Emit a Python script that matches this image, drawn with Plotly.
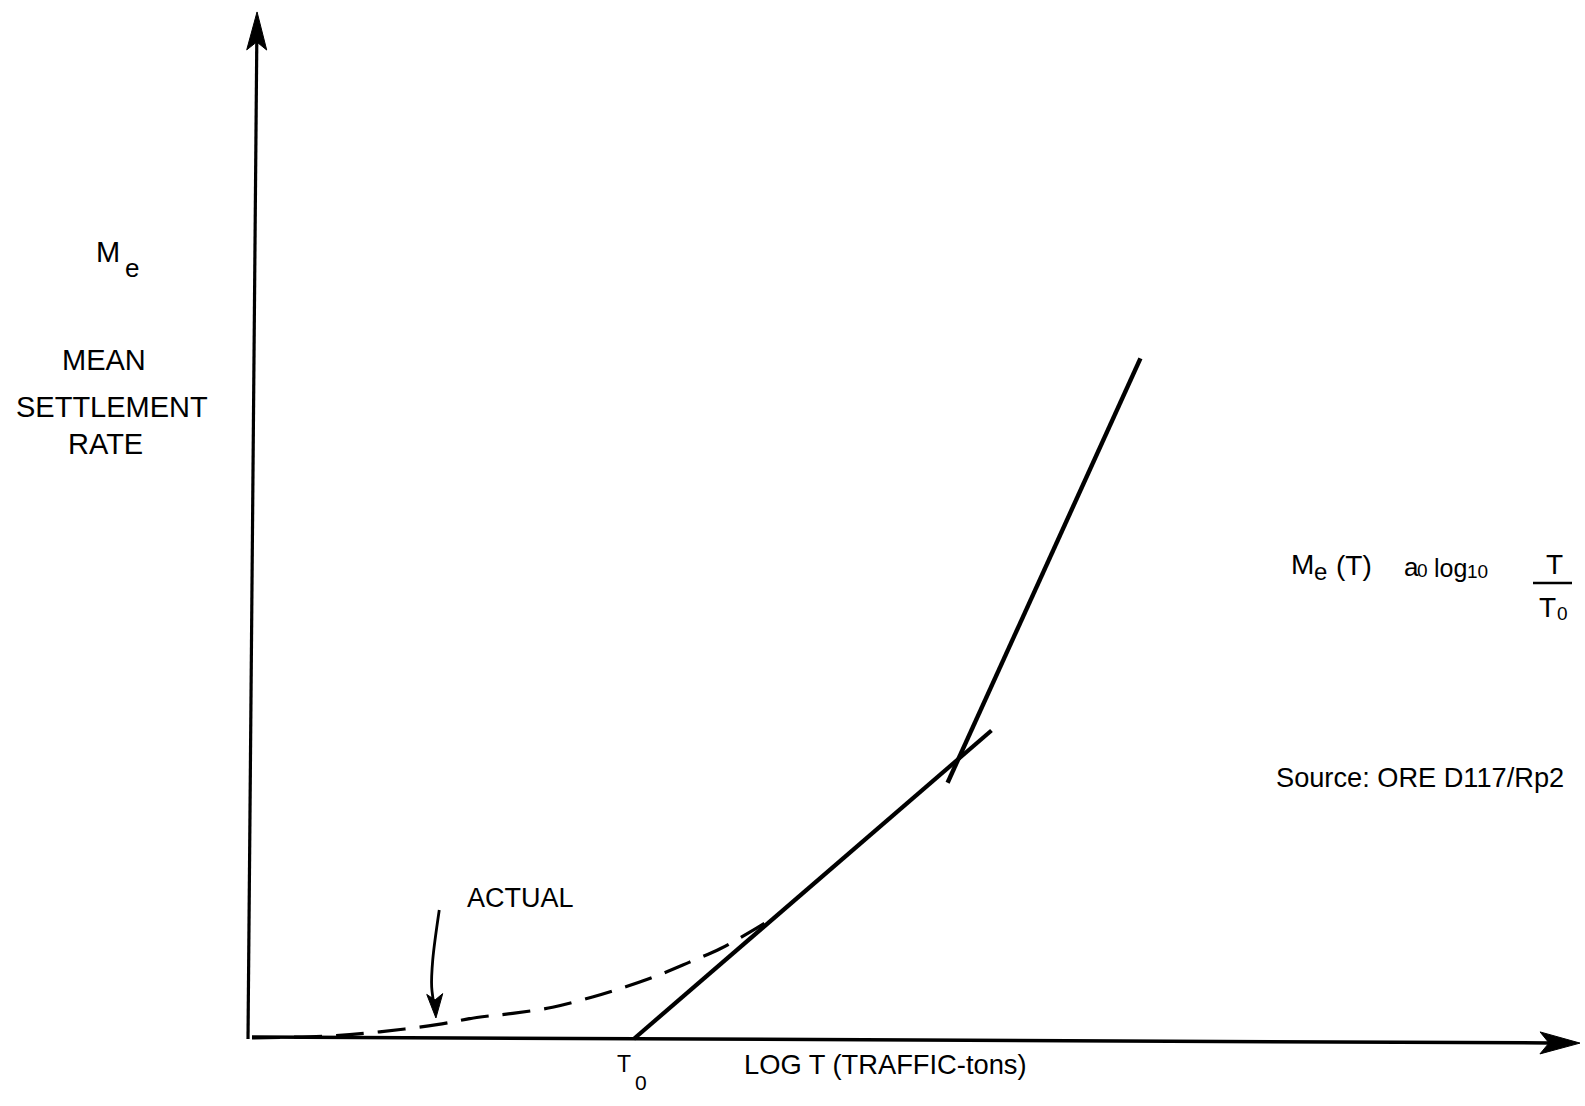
import math
import plotly.graph_objects as go

# ---------------------------------------------------------------------------
# Canvas and axis ranges (log T on x, mean settlement rate on y, arbitrary units)
# ---------------------------------------------------------------------------
FIG_W, FIG_H = 1585, 1106
X_RANGE = [-1.8947, 10.0226]
Y_RANGE = [-0.6537, 10.1366]

# ---------------------------------------------------------------------------
# Values
# ---------------------------------------------------------------------------
T0 = 2.87                      # intercept of the log-linear fit with the T axis

# drawn axes (the hand-drawn axes lean very slightly)
x_axis_x = [0.0, 9.985]
x_axis_y = [0.02, -0.04]
y_axis_x = [-0.03, 0.038]
y_axis_y = [0.0, 10.02]

# first straight fit: Me(T) = a0 log10(T / T0)
fit_low_x = [T0, 5.56]
fit_low_y = [0.0, 3.01]

# second, steeper straight fit beyond the break
fit_high_x = [5.23, 6.68]
fit_high_y = [2.50, 6.64]

# measured ("actual") settlement curve
actual_x = [0.0, 0.59, 0.96, 1.39, 1.69, 1.96, 2.26, 2.56, 2.81, 3.05, 3.29, 3.52, 3.74, 3.93]
actual_y = [0.01, 0.03, 0.07, 0.14, 0.21, 0.25, 0.31, 0.41, 0.51, 0.62, 0.75, 0.88, 1.04, 1.19]

# curved pointer from the ACTUAL label down to the curve
callout_x = [1.408, 1.359, 1.351, 1.376, 1.383]
callout_y = [1.259, 0.771, 0.507, 0.283, 0.205]

FONT = "Liberation Sans, Arial, Helvetica, sans-serif"
INK = "black"


def to_px(x, y):
    px = (x - X_RANGE[0]) / (X_RANGE[1] - X_RANGE[0]) * FIG_W
    py = (Y_RANGE[1] - y) / (Y_RANGE[1] - Y_RANGE[0]) * FIG_H
    return px, py


def to_data(px, py):
    x = X_RANGE[0] + px / FIG_W * (X_RANGE[1] - X_RANGE[0])
    y = Y_RANGE[1] - py / FIG_H * (Y_RANGE[1] - Y_RANGE[0])
    return x, y


def screen_dir(x0, y0, x1, y1):
    ax, ay = to_px(x0, y0)
    bx, by = to_px(x1, y1)
    n = math.hypot(bx - ax, by - ay)
    return (bx - ax) / n, (by - ay) / n


def arrow_head(tip_x, tip_y, ux, uy, length, half, notch):
    """Barbed arrowhead polygon; (ux, uy) is the screen direction it points."""
    n = math.hypot(ux, uy)
    ux, uy = ux / n, uy / n
    nx, ny = -uy, ux
    tx, ty = to_px(tip_x, tip_y)
    bx, by = tx - ux * length, ty - uy * length
    pts_px = [
        (tx, ty),
        (bx + nx * half, by + ny * half),
        (tx - ux * (length - notch), ty - uy * (length - notch)),
        (bx - nx * half, by - ny * half),
        (tx, ty),
    ]
    pts = [to_data(px, py) for px, py in pts_px]
    return [p[0] for p in pts], [p[1] for p in pts]


def shaft_end(tip_x, tip_y, ux, uy, back):
    n = math.hypot(ux, uy)
    tx, ty = to_px(tip_x, tip_y)
    return to_data(tx - ux / n * back, ty - uy / n * back)


fig = go.Figure()


def line(xs, ys, width, dash=None, shape="linear"):
    fig.add_trace(go.Scatter(
        x=xs, y=ys, mode="lines", hoverinfo="skip",
        line=dict(color=INK, width=width, dash=dash, shape=shape),
    ))


def head(xs, ys):
    fig.add_trace(go.Scatter(
        x=xs, y=ys, mode="lines", fill="toself", fillcolor=INK,
        line=dict(color=INK, width=1), hoverinfo="skip",
    ))


# LOG T axis with arrowhead
ux, uy = screen_dir(x_axis_x[0], x_axis_y[0], x_axis_x[1], x_axis_y[1])
xe = shaft_end(x_axis_x[1], x_axis_y[1], ux, uy, 30)
line([x_axis_x[0], xe[0]], [x_axis_y[0], xe[1]], 3.5)
head(*arrow_head(x_axis_x[1], x_axis_y[1], ux, uy, 40, 11, 9))

# Me axis with arrowhead
ux, uy = screen_dir(y_axis_x[0], y_axis_y[0], y_axis_x[1], y_axis_y[1])
ye = shaft_end(y_axis_x[1], y_axis_y[1], ux, uy, 28)
line([y_axis_x[0], ye[0]], [y_axis_y[0], ye[1]], 3.2)
head(*arrow_head(y_axis_x[1], y_axis_y[1], ux, uy, 38, 10, 8))

# measured curve (dashed)
line(actual_x, actual_y, 3.2, dash="28px,14px", shape="spline")

# straight-line fits
line(fit_low_x, fit_low_y, 4.2)
line(fit_high_x, fit_high_y, 4.4)

# ACTUAL pointer
line(callout_x[:-1], callout_y[:-1], 2.8, shape="spline")
head(*arrow_head(callout_x[-1], callout_y[-1], 0.05, 1, 24, 8, 6))


# ---------------------------------------------------------------------------
# Text
# ---------------------------------------------------------------------------
def label(text, cx, cy, size):
    fig.add_annotation(
        text=text, x=cx / FIG_W, y=1 - cy / FIG_H, xref="paper", yref="paper",
        xanchor="center", yanchor="middle", showarrow=False,
        font=dict(family=FONT, size=size, color=INK),
    )


# y-axis title
label("M", 108.5, 252.5, 29)
label("e", 131.5, 268, 26)
label("MEAN", 103.5, 360, 29)
label("SETTLEMENT", 111.5, 407, 29)
label("RATE", 105.5, 444, 29)

# x-axis labels
label("T", 624, 1064, 23)
label("0", 641, 1082.5, 21)
label("LOG T (TRAFFIC-tons)", 885, 1064, 27.3)

# curve label
label("ACTUAL", 520, 898, 27)

# fit equation: Me(T)  a0 log10 (T / T0)
label("M", 1302.5, 564.5, 28)
label("e", 1320.5, 571, 24)
label("(T)", 1353.5, 565, 28)
label("a", 1411, 567, 26)
label("0", 1422, 570, 19)
label("log", 1450, 567.5, 25)
label("10", 1477.5, 571, 19)
label("T", 1554.5, 564.5, 28)
label("T", 1547.5, 607.5, 28)
label("0", 1562.5, 613.5, 19)
fig.add_shape(
    type="line", xref="paper", yref="paper",
    x0=1533 / FIG_W, x1=1572 / FIG_W, y0=1 - 583 / FIG_H, y1=1 - 583 / FIG_H,
    line=dict(color=INK, width=2.5),
)

label("Source: ORE D117/Rp2", 1420, 777, 27.2)

fig.update_layout(
    width=FIG_W, height=FIG_H,
    margin=dict(l=0, r=0, t=0, b=0),
    paper_bgcolor="white", plot_bgcolor="white",
    showlegend=False,
    xaxis=dict(range=X_RANGE, visible=False, fixedrange=True),
    yaxis=dict(range=Y_RANGE, visible=False, fixedrange=True),
)

fig.write_html("out.html")
